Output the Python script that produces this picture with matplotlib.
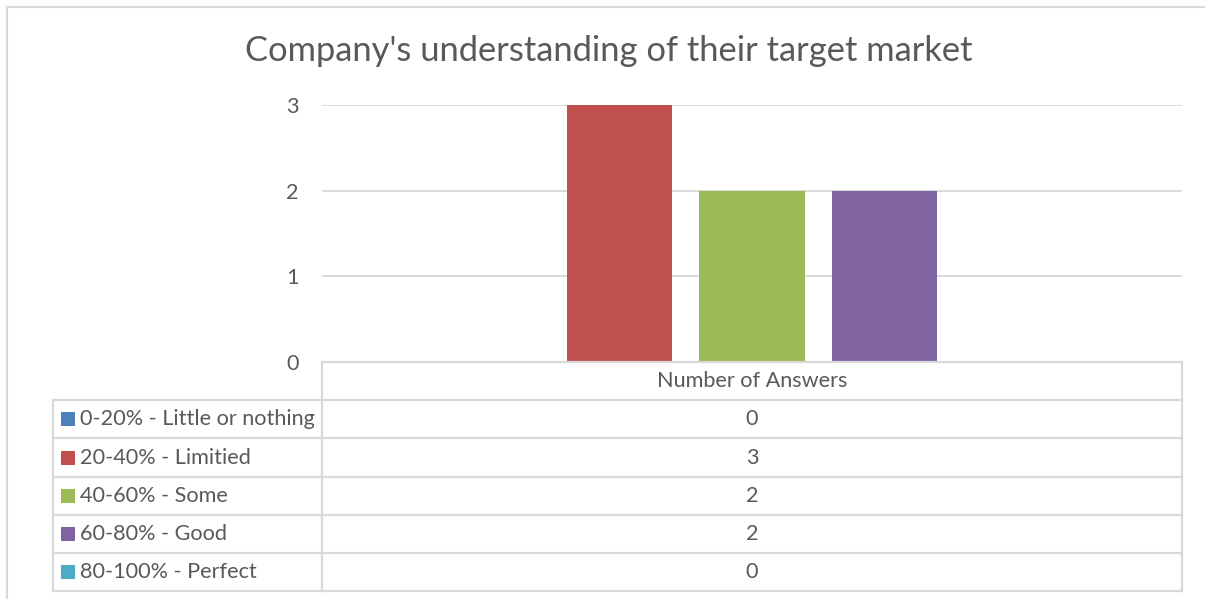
import matplotlib
matplotlib.use('Agg')
import matplotlib.pyplot as plt
from matplotlib.lines import Line2D
from matplotlib.patches import Rectangle

# Data
title = "Company's understanding of their target market"
series = ['0-20% - Little or nothing', '20-40% - Limitied', '40-60% - Some',
          '60-80% - Good', '80-100% - Perfect']
values = [0, 3, 2, 2, 0]
category = 'Number of Answers'
colors = ['#4F81BD', '#C0504D', '#9BBB59', '#8064A2', '#4BACC6']
yticks = [0, 1, 2, 3]

W, H = 1206, 599
plt.rcParams['font.family'] = ['Lato', 'DejaVu Sans']
txt = '#595959'
grid = '#d9d9d9'
fs = 15.6

fig = plt.figure(figsize=(W / 100, H / 100), dpi=100)


def fx(x):
    return x / W


def fy(y):
    return 1 - y / H


# plot area in pixels
L, R, T, B = 322, 1182, 105, 362
ax = fig.add_axes([fx(L), fy(B), fx(R - L), fy(T) - fy(B)])

step, bw = 0.1535, 0.1221
for i, (name, v, c) in enumerate(zip(series, values, colors)):
    ax.bar(0.5 + (i - 2) * step, v, width=bw, color=c, zorder=3)

ax.set_xlim(0, 1)
ax.set_ylim(0, 3)
ax.set_yticks(yticks)
ax.set_xticks([])
ax.yaxis.grid(True, color=grid, lw=1.4, zorder=0)
for s in ax.spines.values():
    s.set_visible(False)
ax.tick_params(axis='y', length=0, labelsize=fs, labelcolor=txt, pad=17)

fig.text(fx(609), fy(51), title, ha='center', va='center', fontsize=24.8, color=txt)

# outer chart border
for seg in [((7, 7), (7, 599)), ((7, 7), (1204, 7))]:
    (x0, y0), (x1, y1) = seg
    fig.add_artist(Line2D([fx(x0), fx(x1)], [fy(y0), fy(y1)], color=grid, lw=1.5))

# data table
rows = [362, 400, 438, 477, 515, 553, 591]
TL = 53
fig.add_artist(Line2D([fx(L), fx(R)], [fy(rows[0])] * 2, color=grid, lw=1.6))
for y in rows[1:]:
    fig.add_artist(Line2D([fx(TL), fx(R)], [fy(y)] * 2, color=grid, lw=1.6))
for x, y0 in [(L, rows[0]), (R, rows[0]), (TL, rows[1])]:
    fig.add_artist(Line2D([fx(x)] * 2, [fy(y0), fy(rows[-1])], color=grid, lw=1.6))

fig.text(fx((L + R) / 2), fy((rows[0] + rows[1]) / 2), category,
         ha='center', va='center', fontsize=fs, color=txt)
for i, (name, v, c) in enumerate(zip(series, values, colors)):
    yc = (rows[i + 1] + rows[i + 2]) / 2
    fig.add_artist(Rectangle((fx(61), fy(yc + 7)), fx(14), fy(yc - 7) - fy(yc + 7),
                             facecolor=c, edgecolor='none'))
    fig.text(fx(80), fy(yc), name, ha='left', va='center', fontsize=fs, color=txt)
    fig.text(fx((L + R) / 2), fy(yc), str(v), ha='center', va='center',
             fontsize=fs, color=txt)

fig.savefig('out.png', dpi=100, facecolor='white')
